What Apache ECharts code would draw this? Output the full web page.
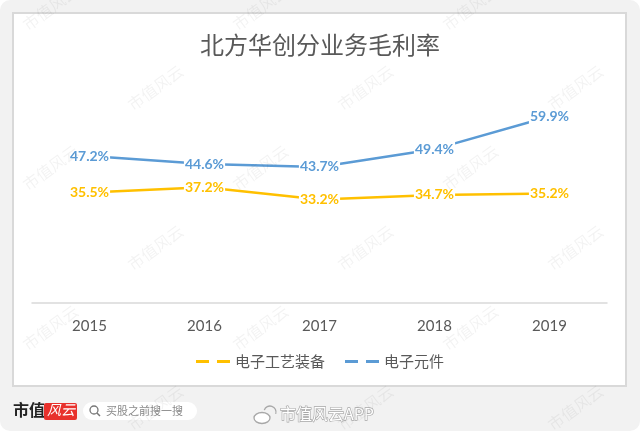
<!DOCTYPE html>
<html>
<head>
<meta charset="utf-8">
<script src="https://cdn.jsdelivr.net/npm/echarts@6/dist/echarts.min.js"></script>
<style>
  html, body { margin: 0; padding: 0; background: #fff; }
  #chart { width: 640px; height: 431px; }
</style>
</head>
<body>
<div id="chart"></div>
<script>
const years = ['2015', '2016', '2017', '2018', '2019'];
const seriesNames = ['电子工艺装备', '电子元件'];
const equipMargin = [35.5, 37.2, 33.2, 34.7, 35.2];
const componentMargin = [47.2, 44.6, 43.7, 49.4, 59.9];
const colors = ['#ffc000', '#5b9bd5'];

const chart = echarts.init(document.getElementById('chart'));

// faint diagonal watermark
const marks = [];
for (let i = 0; i < 6; i += 1) {
  for (let j = 0; j < 4; j += 1) {
    marks.push({
      type: 'text',
      x: 20 + j * 210 + (i % 2) * 105,
      y: 20 + i * 80,
      rotation: Math.PI / 5,
      z: 100,
      silent: true,
      style: {
        text: '市值风云',
        fontSize: 16,
        fontFamily: 'Noto Sans CJK SC',
        fill: 'rgba(0,0,0,0.05)'
      }
    });
  }
}

const lineSeries = (name, data, color) => ({
  type: 'line',
  name,
  data,
  symbol: 'circle',
  symbolSize: 2,
  itemStyle: { color },
  lineStyle: { color, width: 2.5 },
  label: {
    show: true,
    position: 'inside',
    formatter: p => p.value.toFixed(1) + '%',
    color,
    fontFamily: 'Lato',
    fontWeight: 'bold',
    fontSize: 14,
    backgroundColor: '#fff',
    padding: [1, 1]
  }
});

chart.setOption({
  animation: false,
  title: {
    text: '北方华创分业务毛利率',
    left: 'center',
    top: 28,
    textStyle: {
      fontFamily: 'Noto Sans CJK SC',
      fontSize: 24,
      fontWeight: 'normal',
      color: '#595959'
    }
  },
  legend: {
    bottom: 57,
    left: 'center',
    itemGap: 20,
    itemWidth: 34,
    itemHeight: 3,
    textStyle: {
      fontFamily: 'Noto Sans CJK SC',
      fontSize: 15,
      color: '#595959'
    },
    data: seriesNames.map(name => ({
      name,
      icon: 'path://M0,0H13V3H0Z M21,0H34V3H21Z'
    }))
  },
  grid: { left: 32, right: 33, top: 85, bottom: 128 },
  xAxis: {
    type: 'category',
    data: years,
    axisLine: { lineStyle: { color: '#d9d9d9', width: 1.5 } },
    axisTick: { show: false },
    axisLabel: {
      margin: 16,
      fontFamily: 'Lato',
      fontSize: 15,
      color: '#595959'
    }
  },
  yAxis: {
    type: 'value',
    min: 0,
    max: 70,
    show: false,
    splitLine: { show: false }
  },
  graphic: [
    {
      type: 'rect', z: -10, silent: true,
      shape: { x: 0, y: 0, width: 640, height: 431, r: 10 },
      style: { fill: '#f2f2f2' }
    },
    {
      type: 'rect', z: -9, silent: true,
      shape: { x: 13, y: 13, width: 613, height: 373 },
      style: { fill: '#fff', stroke: '#d9d9d9', lineWidth: 2 }
    },
    {
      type: 'text', x: 13, y: 402, silent: true,
      style: { text: '市值', fontSize: 16, fontWeight: 'bold', fontFamily: 'Noto Sans CJK SC', fill: '#222' }
    },
    {
      type: 'rect', silent: true,
      shape: { x: 44, y: 403, width: 33, height: 17, r: 2 },
      style: { fill: '#e8312c' }
    },
    {
      type: 'text', x: 47, y: 403, silent: true,
      style: { text: '风云', fontSize: 14, fontStyle: 'italic', fontFamily: 'Noto Sans CJK SC', fill: '#fff' }
    },
    {
      type: 'rect', silent: true,
      shape: { x: 83, y: 402, width: 114, height: 18, r: 9 },
      style: { fill: '#fff' }
    },
    {
      type: 'circle', silent: true,
      shape: { cx: 94, cy: 410, r: 4 },
      style: { fill: 'none', stroke: '#777', lineWidth: 1.3 }
    },
    {
      type: 'line', silent: true,
      shape: { x1: 97, y1: 413, x2: 100, y2: 416 },
      style: { stroke: '#777', lineWidth: 1.5 }
    },
    {
      type: 'text', x: 106, y: 405, silent: true,
      style: { text: '买股之前搜一搜', fontSize: 11, fontFamily: 'Noto Sans CJK SC', fill: '#8a8a8a' }
    },
    {
      type: 'ellipse', silent: true,
      shape: { cx: 262, cy: 418, rx: 8, ry: 5.5 },
      style: { fill: '#fff', stroke: '#a8a8a8', lineWidth: 1.3 }
    },
    {
      type: 'arc', silent: true,
      shape: { cx: 270, cy: 412, r: 6, startAngle: -Math.PI * 0.9, endAngle: Math.PI * 0.1 },
      style: { fill: 'none', stroke: '#a8a8a8', lineWidth: 1.3 }
    },
    {
      type: 'text', x: 280, y: 406, silent: true,
      style: {
        text: '市值风云APP', fontSize: 16, fontFamily: 'Noto Sans CJK SC',
        fill: '#fff', stroke: '#a8a8a8', lineWidth: 1.3
      }
    }
  ].concat(marks),
  series: [
    lineSeries(seriesNames[0], equipMargin, colors[0]),
    lineSeries(seriesNames[1], componentMargin, colors[1])
  ]
});
</script>
</body>
</html>
